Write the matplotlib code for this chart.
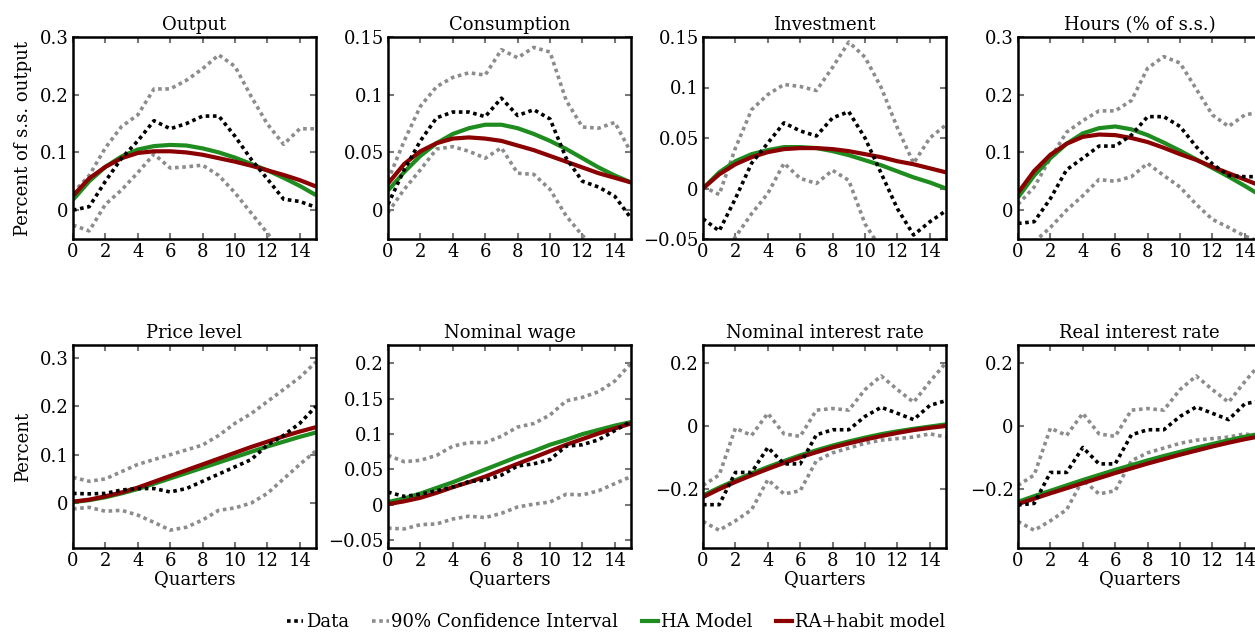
import matplotlib
matplotlib.use("Agg")
import matplotlib.pyplot as plt
from matplotlib.ticker import FuncFormatter, FixedLocator
from matplotlib.lines import Line2D
import numpy as np

plt.rcParams['font.family'] = ['DejaVu Serif']
FS = 13
plt.rcParams['font.size'] = FS

quarters = list(range(16))

titles = ["Output", "Consumption", "Investment", "Hours (% of s.s.)",
          "Price level", "Nominal wage", "Nominal interest rate", "Real interest rate"]

# ---- Output
out_data = [0.0, 0.006, 0.05, 0.09, 0.12, 0.155, 0.141, 0.15, 0.163, 0.163, 0.128, 0.088, 0.054, 0.019, 0.015, 0.005]
out_hi = [0.03, 0.06, 0.108, 0.145, 0.165, 0.21, 0.21, 0.225, 0.245, 0.269, 0.249, 0.197, 0.149, 0.114, 0.141, 0.141]
out_lo = [-0.026, -0.036, 0.01, 0.035, 0.065, 0.097, 0.073, 0.075, 0.078, 0.06, 0.03, -0.005, -0.04, -0.075, -0.1, -0.12]
out_ha = [0.018, 0.05, 0.075, 0.093, 0.105, 0.111, 0.113, 0.112, 0.107, 0.1, 0.091, 0.08, 0.069, 0.056, 0.042, 0.026]
out_ra = [0.025, 0.055, 0.075, 0.09, 0.099, 0.102, 0.102, 0.1, 0.096, 0.09, 0.084, 0.077, 0.069, 0.061, 0.052, 0.041]

# ---- Consumption
con_data = [0.005, 0.035, 0.06, 0.08, 0.085, 0.085, 0.081, 0.097, 0.082, 0.087, 0.079, 0.045, 0.025, 0.02, 0.012, -0.007]
con_hi = [0.026, 0.06, 0.09, 0.107, 0.115, 0.119, 0.117, 0.139, 0.132, 0.141, 0.137, 0.095, 0.072, 0.071, 0.076, 0.05]
con_lo = [-0.002, 0.018, 0.035, 0.053, 0.055, 0.051, 0.045, 0.054, 0.032, 0.031, 0.018, -0.005, -0.022, -0.035, -0.05, -0.06]
con_ha = [0.017, 0.033, 0.047, 0.058, 0.066, 0.071, 0.074, 0.074, 0.071, 0.066, 0.06, 0.053, 0.045, 0.037, 0.03, 0.024]
con_ra = [0.023, 0.04, 0.051, 0.058, 0.062, 0.063, 0.062, 0.06, 0.056, 0.052, 0.047, 0.042, 0.037, 0.032, 0.028, 0.024]

# ---- Investment
inv_data = [-0.03, -0.042, -0.01, 0.025, 0.045, 0.065, 0.057, 0.052, 0.07, 0.076, 0.05, 0.015, -0.02, -0.046, -0.033, -0.022]
inv_hi = [0.002, -0.006, 0.04, 0.078, 0.093, 0.103, 0.101, 0.097, 0.12, 0.145, 0.13, 0.1, 0.06, 0.025, 0.05, 0.063]
inv_lo = [-0.09, -0.07, -0.048, -0.025, -0.005, 0.025, 0.01, 0.005, 0.018, 0.008, -0.035, -0.06, -0.09, -0.1, -0.09, -0.08]
inv_ha = [0.0, 0.016, 0.027, 0.034, 0.038, 0.041, 0.041, 0.04, 0.037, 0.033, 0.028, 0.023, 0.017, 0.011, 0.006, 0.0]
inv_ra = [0.0, 0.014, 0.024, 0.031, 0.036, 0.039, 0.04, 0.04, 0.039, 0.037, 0.034, 0.031, 0.027, 0.024, 0.02, 0.016]

# ---- Hours
hrs_data = [-0.023, -0.02, 0.02, 0.07, 0.09, 0.111, 0.111, 0.13, 0.162, 0.162, 0.145, 0.11, 0.08, 0.06, 0.058, 0.058]
hrs_hi = [0.01, 0.04, 0.09, 0.135, 0.155, 0.172, 0.172, 0.19, 0.246, 0.266, 0.255, 0.21, 0.165, 0.145, 0.165, 0.17]
hrs_lo = [-0.08, -0.055, -0.03, 0.0, 0.025, 0.053, 0.05, 0.058, 0.081, 0.06, 0.04, 0.01, -0.016, -0.03, -0.045, -0.055]
hrs_ha = [0.022, 0.06, 0.09, 0.115, 0.133, 0.142, 0.145, 0.14, 0.13, 0.117, 0.103, 0.088, 0.073, 0.058, 0.042, 0.025]
hrs_ra = [0.03, 0.068, 0.096, 0.115, 0.127, 0.131, 0.13, 0.125, 0.118, 0.108, 0.097, 0.087, 0.075, 0.064, 0.053, 0.042]

# ---- Price level
prc_data = [0.02, 0.019, 0.02, 0.027, 0.03, 0.03, 0.023, 0.03, 0.045, 0.06, 0.075, 0.09, 0.12, 0.14, 0.165, 0.2]
prc_hi = [0.053, 0.045, 0.05, 0.065, 0.08, 0.09, 0.1, 0.11, 0.12, 0.14, 0.165, 0.185, 0.21, 0.235, 0.26, 0.292]
prc_lo = [-0.012, -0.009, -0.017, -0.015, -0.025, -0.04, -0.056, -0.05, -0.035, -0.015, -0.01, 0.0, 0.02, 0.05, 0.08, 0.108]
prc_ha = [0.002, 0.006, 0.012, 0.02, 0.029, 0.04, 0.051, 0.062, 0.073, 0.084, 0.095, 0.106, 0.117, 0.127, 0.137, 0.146]
prc_ra = [0.003, 0.007, 0.014, 0.022, 0.032, 0.044, 0.056, 0.068, 0.08, 0.092, 0.104, 0.116, 0.127, 0.138, 0.148, 0.157]

# ---- Nominal wage
wag_data = [0.018, 0.012, 0.015, 0.02, 0.025, 0.033, 0.035, 0.042, 0.055, 0.058, 0.064, 0.083, 0.085, 0.092, 0.105, 0.118]
wag_hi = [0.07, 0.061, 0.063, 0.07, 0.083, 0.088, 0.088, 0.097, 0.11, 0.115, 0.127, 0.147, 0.152, 0.16, 0.175, 0.2]
wag_lo = [-0.033, -0.034, -0.028, -0.027, -0.02, -0.016, -0.018, -0.012, -0.003, 0.001, 0.004, 0.015, 0.014, 0.02, 0.03, 0.04]
wag_ha = [0.004, 0.009, 0.016, 0.024, 0.032, 0.041, 0.05, 0.059, 0.068, 0.076, 0.085, 0.092, 0.1, 0.106, 0.112, 0.117]
wag_ra = [0.001, 0.005, 0.01, 0.017, 0.025, 0.032, 0.04, 0.049, 0.058, 0.067, 0.076, 0.085, 0.093, 0.101, 0.108, 0.115]

# ---- Nominal interest rate
nom_data = [-0.249, -0.249, -0.147, -0.147, -0.068, -0.12, -0.12, -0.028, -0.012, -0.012, 0.03, 0.059, 0.04, 0.02, 0.065, 0.08]
nom_hi = [-0.188, -0.155, -0.007, -0.03, 0.04, -0.025, -0.033, 0.05, 0.055, 0.05, 0.115, 0.158, 0.115, 0.075, 0.14, 0.2]
nom_lo = [-0.302, -0.33, -0.3, -0.265, -0.17, -0.215, -0.205, -0.11, -0.085, -0.07, -0.055, -0.045, -0.04, -0.035, -0.025, -0.035]
nom_ha = [-0.22, -0.195, -0.172, -0.15, -0.13, -0.111, -0.093, -0.077, -0.062, -0.049, -0.037, -0.026, -0.017, -0.009, -0.002, 0.005]
nom_ra = [-0.225, -0.2, -0.177, -0.156, -0.136, -0.117, -0.099, -0.083, -0.068, -0.055, -0.043, -0.032, -0.022, -0.013, -0.006, 0.0]

# ---- Real interest rate
rea_data = [-0.25, -0.245, -0.147, -0.147, -0.068, -0.12, -0.12, -0.028, -0.012, -0.012, 0.03, 0.06, 0.04, 0.02, 0.07, 0.08]
rea_hi = [-0.188, -0.155, -0.007, -0.03, 0.04, -0.025, -0.033, 0.05, 0.055, 0.05, 0.115, 0.158, 0.115, 0.075, 0.14, 0.2]
rea_lo = [-0.302, -0.33, -0.3, -0.265, -0.17, -0.215, -0.205, -0.11, -0.085, -0.07, -0.055, -0.045, -0.04, -0.035, -0.025, -0.035]
rea_ha = [-0.24, -0.222, -0.205, -0.188, -0.171, -0.155, -0.139, -0.124, -0.109, -0.095, -0.082, -0.069, -0.057, -0.045, -0.034, -0.024]
rea_ra = [-0.247, -0.23, -0.213, -0.197, -0.181, -0.165, -0.149, -0.134, -0.119, -0.105, -0.091, -0.078, -0.065, -0.053, -0.042, -0.032]

series = [
    (out_data, out_hi, out_lo, out_ha, out_ra),
    (con_data, con_hi, con_lo, con_ha, con_ra),
    (inv_data, inv_hi, inv_lo, inv_ha, inv_ra),
    (hrs_data, hrs_hi, hrs_lo, hrs_ha, hrs_ra),
    (prc_data, prc_hi, prc_lo, prc_ha, prc_ra),
    (wag_data, wag_hi, wag_lo, wag_ha, wag_ra),
    (nom_data, nom_hi, nom_lo, nom_ha, nom_ra),
    (rea_data, rea_hi, rea_lo, rea_ha, rea_ra),
]

ylims = [(-0.05, 0.3), (-0.025, 0.15), (-0.05, 0.15), (-0.05, 0.3),
         (-0.093, 0.327), (-0.061, 0.226), (-0.386, 0.256), (-0.386, 0.256)]
yticks = [[0, 0.1, 0.2, 0.3], [0, 0.05, 0.1, 0.15], [-0.05, 0, 0.05, 0.1, 0.15], [0, 0.1, 0.2, 0.3],
          [0, 0.1, 0.2, 0.3], [-0.05, 0, 0.05, 0.1, 0.15, 0.2], [-0.2, 0, 0.2], [-0.2, 0, 0.2]]
xticks = [0, 2, 4, 6, 8, 10, 12, 14]

C_DATA = 'black'
C_CI = '#8c8c8c'
C_HA = '#1e8c1e'
C_RA = '#8b0000'

W, H = 1255, 634
fig = plt.figure(figsize=(W / 100, H / 100), dpi=100)

lefts = [73, 388, 703, 1018]
ax_w = 243
rows = [(37, 239), (345, 548)]

def fmt(v, pos):
    s = '%g' % v
    if abs(v) < 1e-12:
        s = '0'
    return s.replace('-', '\u2212')

dot = (0, (1.0, 1.0))
for i in range(8):
    r, c = divmod(i, 4)
    top, bot = rows[r]
    ax = fig.add_axes([lefts[c] / W, 1 - bot / H, ax_w / W, (bot - top) / H])
    d, hi, lo, ha, ra = series[i]
    ax.plot(quarters, hi, color=C_CI, lw=2.6, linestyle=dot)
    ax.plot(quarters, lo, color=C_CI, lw=2.6, linestyle=dot)
    ax.plot(quarters, ha, color=C_HA, lw=3.0, solid_capstyle='butt')
    ax.plot(quarters, ra, color=C_RA, lw=3.0, solid_capstyle='butt')
    ax.plot(quarters, d, color=C_DATA, lw=2.6, linestyle=dot)
    ax.set_xlim(0, 15)
    ax.set_ylim(*ylims[i])
    ax.xaxis.set_major_locator(FixedLocator(xticks))
    ax.yaxis.set_major_locator(FixedLocator(yticks[i]))
    ax.yaxis.set_major_formatter(FuncFormatter(fmt))
    ax.tick_params(direction='in', length=4, width=1.5, color='#777777',
                   top=True, right=True, labelsize=FS, pad=3)
    for sp in ax.spines.values():
        sp.set_linewidth(1.8)
        sp.set_color('black')
    ax.set_title(titles[i], fontsize=FS, pad=5)
    if r == 1:
        ax.set_xlabel('Quarters', fontsize=FS, labelpad=0)
    if c == 0:
        ax.set_ylabel('Percent of s.s. output' if r == 0 else 'Percent', fontsize=FS, labelpad=6)

handles = [
    Line2D([], [], color=C_DATA, lw=2.6, linestyle=dot),
    Line2D([], [], color=C_CI, lw=2.6, linestyle=dot),
    Line2D([], [], color=C_HA, lw=3.0),
    Line2D([], [], color=C_RA, lw=3.0),
]
labels = ['Data', '90% Confidence Interval', 'HA Model', 'RA+habit model']
fig.legend(handles, labels, loc='center', bbox_to_anchor=(616 / W, 1 - 622 / H),
           ncol=4, frameon=False, fontsize=FS, handlelength=0.9, handletextpad=0.15,
           columnspacing=1.3, borderpad=0.1)

fig.savefig('out.png', dpi=100)
